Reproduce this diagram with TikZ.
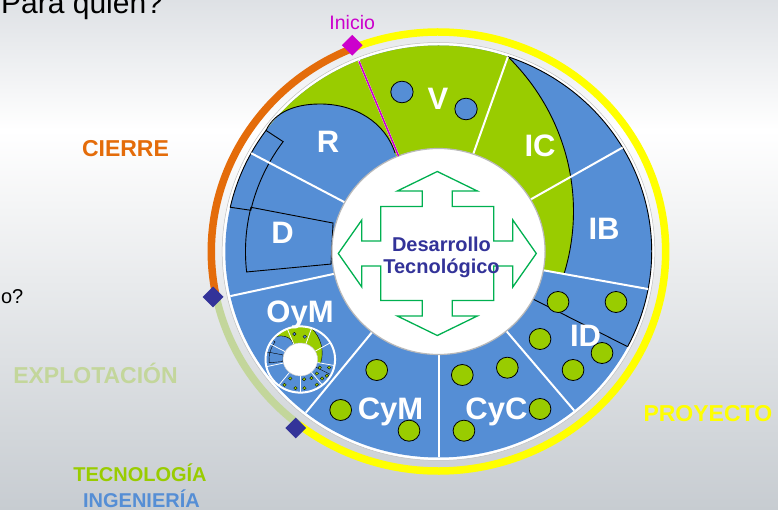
\documentclass[tikz,border=0pt]{standalone}
\usepackage{fontspec}
\setmainfont{Liberation Sans}
\usetikzlibrary{positioning}
\usetikzlibrary{shapes.geometric}

\definecolor{azul}{RGB}{85,142,213}
\definecolor{verde}{RGB}{153,204,0}
\definecolor{naranja}{RGB}{228,108,10}
\definecolor{verdeclaro}{RGB}{195,214,155}
\definecolor{amarillo}{RGB}{255,255,0}
\definecolor{azuloscuro}{RGB}{51,51,153}
\definecolor{violeta}{RGB}{204,0,204}
\definecolor{verdeflecha}{RGB}{0,176,80}
\definecolor{fondoarriba}{RGB}{222,225,229}
\definecolor{fondoabajo}{RGB}{199,204,209}

\tikzset{
	etapa/.style={text=white, font=\fontsize{31}{31}\selectfont\bfseries, inner sep=0pt, anchor=base},
	fase/.style={font=\fontsize{23}{23}\selectfont\bfseries, inner sep=0pt, anchor=base},
	hito/.style={diamond, inner sep=0pt, minimum size=21pt},
	punto/.style={draw=black, line width=0.8pt},
	linea/.style={white, line width=2pt},
	borde/.style={black, line width=0.9pt},
	centro/.style={fill=white, draw=gray!55, line width=1.2pt}
}

\newcommand{\rueda}{
	\fill[white] (0,0) circle[radius=209];
	\draw[gray!50, line width=0.5pt] (0,0) circle[radius=209];
	\fill[azul] (0,0) circle[radius=206];
	\begin{scope}
		\clip (0,0) circle[radius=206];
		\fill[verde] (0,0) -- (71:206) arc[start angle=71, end angle=144, radius=206] .. controls (-158,139.5) and (-138.6,147.5) .. (-114.5,147.5) .. controls (-80.7,147.5) and (-51.7,129.5) .. (-42,98.5) -- cycle;
		\fill[verde] (0,0) -- (71:206) arc[start angle=44.6, end angle=-16.5, radius=220] -- cycle;
	\end{scope}
	\draw[borde] (144:206) .. controls (-158,139.5) and (-138.6,147.5) .. (-114.5,147.5) .. controls (-80.7,147.5) and (-51.7,129.5) .. (-42,98.5);
	\draw[borde] (71:206) arc[start angle=44.6, end angle=-16.5, radius=220];
	\draw[borde] (71:206) arc[start angle=71, end angle=-27.5, radius=206];
	\draw[borde] (-27.5:103) -- (-27.5:206);
	\draw[borde] (144:206) arc[start angle=144, end angle=167.6, radius=206] -- (167.2:186) arc[start angle=167.2, end angle=143.8, radius=186] -- cycle;
	\draw[borde] (166.3:187) -- (164.4:105.8) -- (186.9:104.6) -- (186.3:186.5) arc[start angle=186.3, end angle=166.3, radius=186.5] -- cycle;
	\foreach \a in {112,71,30.3,-10.5,-50.5,-90,-128.5,192.5,151.5}
		\draw[linea] (\a:103) -- (\a:206);
	\foreach \x/\y in {-35.3/159.5, 26.6/142.5}
		\draw[punto, fill=azul] (\x,\y) circle[radius=10.8];
	\foreach \x/\y in {115.5/-50.5, 171.5/-50.5, 98.1/-87.5, 158/-101.5, 130/-118.5, 23/-123.5, 66.5/-116.2, 98.1/-157.5, 24.6/-179.2, -59.7/-118.5, -94.5/-158.5, -28.5/-179.2}
		\draw[punto, fill=verde] (\x,\y) circle[radius=10.5];
	\draw[centro] (0,0) circle[radius=103];
}

\begin{document}
\begin{tikzpicture}[x=1pt, y=1pt]
	\useasboundingbox (-438.5,-258.5) rectangle (339.5,251.5);
	\shade[top color=fondoarriba, bottom color=white] (-438.5,251.5) rectangle (339.5,121.5);
	\shade[top color=white, bottom color=fondoabajo] (-438.5,121.5) rectangle (339.5,-258.5);

	\begin{scope}[xscale=1.035]
		\draw[amarillo, line width=7.5pt] (-128:219.5) arc[start angle=-128, end angle=112, radius=219.5];
		\draw[naranja, line width=7.5pt] (112:219.5) arc[start angle=112, end angle=192, radius=219.5];
		\draw[verdeclaro, line width=7.5pt] (192:219.5) arc[start angle=192, end angle=232, radius=219.5];
		\rueda
		\draw[violeta, line width=1.6pt] (112:205) -- (112:103);
		\node[hito, fill=violeta] (inicio) at (112:222.5) {};
		\node[hito, fill=azuloscuro] (fincierre) at (191.8:222.5) {};
		\node[hito, fill=azuloscuro] (finexplotacion) at (232:224) {};
	\end{scope}

	\begin{scope}[shift={(-138.2,-108)}, xscale=0.168, yscale=0.16, linea/.style={white, line width=0.8pt}, borde/.style={black, line width=0.4pt}, punto/.style={draw=black, line width=0.3pt}, centro/.style={fill=white, draw=gray!40, line width=0.5pt}]
		\rueda
		\draw[white, line width=2pt] (0,0) circle[radius=207];
	\end{scope}

	\draw[verdeflecha, line width=1.3pt, shift={(-1.2,-2)}] (0,82) -- (40,62.5) -- (15,62.5) -- (15,47) -- (56.5,47) -- (56.5,12.5) -- (75.5,12.5) -- (75.5,33.5) -- (99,0) -- (75.5,-33.5) -- (75.5,-12.5) -- (56.5,-12.5) -- (56.5,-47) -- (15,-47) -- (15,-62.5) -- (40,-62.5) -- (0,-82) -- (-40,-62.5) -- (-15,-62.5) -- (-15,-47) -- (-56.5,-47) -- (-56.5,-12.5) -- (-75.5,-12.5) -- (-75.5,-33.5) -- (-99,0) -- (-75.5,33.5) -- (-75.5,12.5) -- (-56.5,12.5) -- (-56.5,47) -- (-15,47) -- (-15,62.5) -- (-40,62.5) -- cycle;
	\node[text=azuloscuro, font=\fontsize{20}{21.6}\selectfont\bfseries, align=center, inner sep=0pt] (dt) at (3,-5.8) {Desarrollo\\Tecnológico};

	\node[etapa] (V) at (-0.5,141.5) {V};
	\node[etapa] (R) at (-110.5,98.5) {R};
	\node[etapa] (IC) at (101.5,94.5) {IC};
	\node[etapa] (IB) at (165.5,11.5) {IB};
	\node[etapa] (ID) at (147,-95.5) {ID};
	\node[etapa] (CyC) at (58,-168.5) {CyC};
	\node[etapa] (CyM) at (-48,-168.5) {CyM};
	\node[etapa] (OyM) at (-138.5,-71.5) {OyM};
	\node[etapa] (D) at (-156,7.5) {D};

	\node[above=5pt of inicio, text=violeta, font=\fontsize{19.5}{19.5}\selectfont, inner sep=0pt] (tinicio) {Inicio};
	\node[anchor=base west, inner sep=0pt, font=\fontsize{30}{30}\selectfont] (pregunta) at (-437.5,238.2) {Para quien?};
	\node[anchor=base east, inner sep=0pt, font=\fontsize{20}{20}\selectfont] (pregunta2) at (-415,-51.8) {o?};
	\node[fase, text=naranja] (tcierre) at (-313,94.8) {CIERRE};
	\node[fase, text=verdeclaro] (texplotacion) at (-343,-132.5) {EXPLOTACIÓN};
	\node[fase, text=amarillo, anchor=base west] (tproyecto) at (204.8,-170.2) {PROYECTO};
	\node[fase, text=verde, font=\fontsize{20}{20}\selectfont\bfseries] (ttecnologia) at (-298.5,-230.2) {TECNOLOGÍA};
	\node[fase, text=azul, font=\fontsize{20}{20}\selectfont\bfseries] (tingenieria) at (-297,-256.1) {INGENIERÍA};
\end{tikzpicture}
\end{document}
